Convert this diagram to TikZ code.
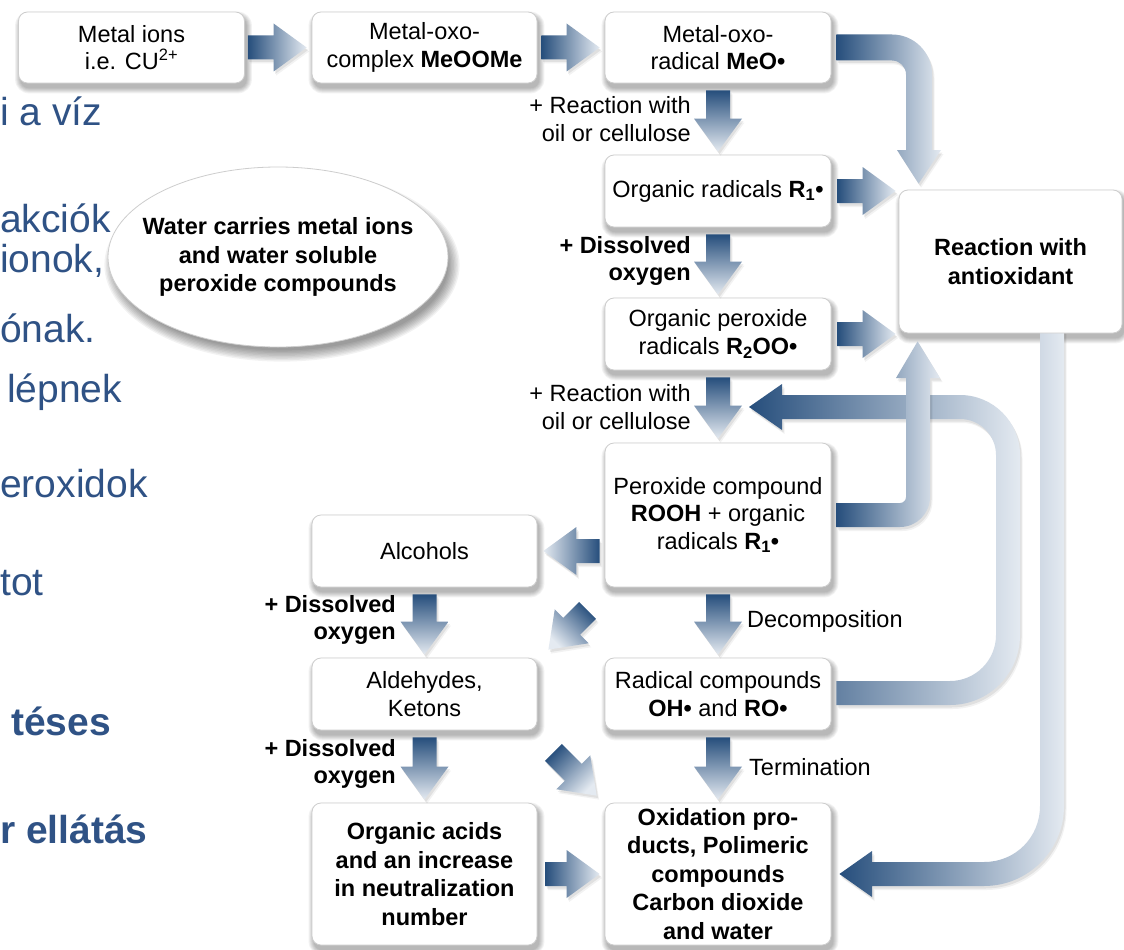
\documentclass[tikz,border=0pt]{standalone}
\usepackage{fontspec}
\setmainfont{Liberation Sans}
\usetikzlibrary{calc,shapes.geometric}
\pgfdeclarelayer{back}
\pgfdeclarelayer{bg}
\pgfsetlayers{back,bg,main}

\definecolor{adark}{RGB}{38,78,124}
\definecolor{alight}{RGB}{228,234,241}
\definecolor{slidetext}{RGB}{47,82,133}
\definecolor{boxborder}{RGB}{205,205,205}

\newcommand\blockarrow[3]{%
  \coordinate (bT) at (#2);
  \coordinate (bP) at (#3);
  \coordinate (bB) at ($(bP)!33pt!(bT)$);
  \path[#1] ($(bT)!12pt!90:(bP)$) -- ($(bB)!12pt!90:(bP)$) -- ($(bB)!24pt!90:(bP)$) -- (bP)
     -- ($(bB)!24pt!-90:(bP)$) -- ($(bB)!12pt!-90:(bP)$) -- ($(bT)!12pt!-90:(bP)$) -- cycle;
}

\tikzset{
  box/.style={draw=boxborder, line width=0.8pt, fill=white, rounded corners=9pt,
    minimum width=226pt, minimum height=71pt, align=center, inner sep=2pt,
    font=\fontsize{23.5}{27.5}\selectfont},
  bbox/.style={box, font=\bfseries\fontsize{23.5}{28.5}\selectfont},
  arrshadow/.style={
    preaction={fill=black, opacity=0.07, transform canvas={shift={(1.5pt,-2.5pt)}}},
    preaction={fill=black, opacity=0.05, transform canvas={shift={(2.5pt,-4pt)}}}},
  downarr/.style={arrshadow, top color=adark, bottom color=alight},
  rightarr/.style={arrshadow, left color=adark, right color=alight},
  leftarr/.style={arrshadow, left color=alight, right color=adark},
  bandarr/.style={arrshadow, left color=adark, right color=alight},
  lbl/.style={font=\fontsize{23.5}{27.5}\selectfont, inner sep=0pt},
  blbl/.style={lbl, font=\bfseries\fontsize{23.5}{27.5}\selectfont},
  slide/.style={text=slidetext, inner sep=0pt, font=\fontsize{39}{44}\selectfont},
  bslide/.style={slide, font=\bfseries\fontsize{39}{44}\selectfont},
  softshadow/.style={fill=black, opacity=0.05},
}

\begin{document}
\begin{tikzpicture}[x=1pt,y=-1pt]
\useasboundingbox (0,0) rectangle (1124,950);
\begin{pgfonlayer}{back}
\fill[white] (0,0) rectangle (1124,950);
\end{pgfonlayer}

% slide text in the background
\node[slide, anchor=base west] (s1) at (0,125) {i a víz};
\node[slide, anchor=base west] (s2) at (0,232) {akciók};
\node[slide, anchor=base west] (s3) at (0,272) {ionok,};
\node[slide, anchor=base west] (s4) at (0,342) {ónak.};
\node[slide, anchor=base west] (s5) at (7,402) {lépnek};
\node[slide, anchor=base west] (s6) at (0,497) {eroxidok};
\node[slide, anchor=base west] (s7) at (0,595) {tot};
\node[bslide, anchor=base west] (s8) at (11,735) {téses};
\node[bslide, anchor=base west] (s9) at (0,843) {r ellátás};

% ellipse
\node[ellipse, draw=boxborder, line width=0.8pt, fill=white, minimum width=340pt, minimum height=180pt,
  align=center, inner xsep=-17pt, inner ysep=0pt, font=\bfseries\fontsize{23.5}{28.5}\selectfont]
  (ell) at (278,257) {Water carries metal ions\\and water soluble\\peroxide compounds};

% boxes
\node[box] (mi) at (131.5,47.5) {Metal ions\\i.e. CU\textsuperscript{2+}};
\node[box, minimum width=225pt] (moc) at (424.5,47.5) {Metal-oxo-\\complex \textbf{MeOOMe}};
\node[box] (mor) at (718,47.5) {Metal-oxo-\\radical \textbf{MeO•}};
\node[box, minimum height=72pt] (orad) at (718,191) {Organic radicals \textbf{R\textsubscript{1}•}};
\node[box, minimum height=72pt] (oper) at (718,334) {Organic peroxide\\radicals \textbf{R\textsubscript{2}OO•}};
\node[box, minimum height=144pt] (perc) at (718,515) {Peroxide compound\\\textbf{ROOH} + organic\\radicals \textbf{R\textsubscript{1}•}};
\node[box, minimum height=72pt] (radc) at (718,694) {Radical compounds\\\textbf{OH•} and \textbf{RO•}};
\node[bbox, minimum height=142pt] (oxp) at (718,874) {Oxidation pro-\\ducts, Polimeric\\compounds\\Carbon dioxide\\and water};
\node[box, minimum width=225pt, minimum height=72pt] (alc) at (424.5,551) {Alcohols};
\node[box, minimum width=225pt, minimum height=72pt] (ald) at (424.5,694) {Aldehydes,\\Ketons};
\node[bbox, minimum width=225pt, minimum height=142pt] (oac) at (424.5,874) {Organic acids\\and an increase\\in neutralization\\number};
\node[bbox, minimum width=223pt, minimum height=143pt] (rwa) at (1010.5,261.5) {Reaction with\\antioxidant};

% labels
\node[lbl, anchor=east, align=right] (l1) at (691,119) {+ Reaction with\\oil or cellulose};
\node[blbl, anchor=east, align=right] (l2) at (691,261) {+ Dissolved\\oxygen};
\node[lbl, anchor=east, align=right] (l3) at (691,407) {+ Reaction with\\oil or cellulose};
\node[lbl, anchor=west] (l4) at (747,621) {Decomposition};
\node[lbl, anchor=west] (l5) at (749,767) {Termination};
\node[blbl, anchor=east, align=right] (l6) at (396,620) {+ Dissolved\\oxygen};
\node[blbl, anchor=east, align=right] (l7) at (396,764) {+ Dissolved\\oxygen};

% straight block arrows
\blockarrow{rightarr}{$(mi.east)+(3,0)$}{$(moc.west)+(-5,0)$}
\blockarrow{rightarr}{$(moc.east)+(4,0)$}{$(mor.west)+(-5,0)$}
\blockarrow{downarr}{$(mor.south)+(0,7)$}{$(orad.north)+(0,-3)$}
\blockarrow{downarr}{$(orad.south)+(0,7)$}{$(oper.north)+(0,-3)$}
\blockarrow{downarr}{$(oper.south)+(0,7)$}{$(perc.north)+(0,-4)$}
\blockarrow{downarr}{$(perc.south)+(0,7)$}{$(radc.north)+(0,-3)$}
\blockarrow{downarr}{$(radc.south)+(0,7)$}{$(oxp.north)+(0,-3)$}
\blockarrow{downarr}{$(alc.south)+(0,7)$}{$(ald.north)+(0,-3)$}
\blockarrow{downarr}{$(ald.south)+(0,7)$}{$(oac.north)+(0,-3)$}
\blockarrow{rightarr}{$(orad.east)+(6,0)$}{$(orad.east -| rwa.west)+(-3,0)$}
\blockarrow{rightarr}{$(oper.east)+(6,0)$}{$(oper.east -| rwa.west)+(-3,0)$}
\blockarrow{leftarr}{$(perc.west |- alc.east)+(-5,0)$}{$(alc.east)+(6,0)$}
\blockarrow{arrshadow, top color=adark, bottom color=alight, shading angle=-45}{$(perc.south west)+(-17,23)$}{$(ald.north east)+(11,-8)$}
\blockarrow{arrshadow, top color=adark, bottom color=alight, shading angle=45}{$(ald.south east)+(16,22)$}{$(oxp.north west)+(-8,-7)$}
\blockarrow{rightarr}{$(oac.east)+(8,0)$}{$(oxp.west)+(-5,0)$}

\begin{pgfonlayer}{bg}
% soft shadow of the ellipse
\foreach \i in {1,...,9}
  \fill[softshadow] ($(ell.center)+(4,8)$) ellipse [x radius={165+1.4*\i}, y radius={84+1.4*\i}];
% soft shadows of the boxes
\foreach \n in {mi,moc,mor,orad,oper,perc,radc,oxp,alc,ald,oac,rwa}
  \foreach \i in {0,...,5}
    \fill[softshadow, rounded corners={9pt+\i pt}]
      ($(\n.south west)+({2-\i},{5+\i})$) rectangle ($(\n.north east)+({2+\i},{5-\i})$);
% radical compounds -> back to the reaction step
\path[bandarr] ($(radc.east)+(5,11)$) -- (950,705) .. controls (988.7,705) and (1020,673.7) .. (1020,635)
  -- (1020,455) .. controls (1020,421.9) and (993.1,395) .. (960,395) -- (782,395) -- (782,384)
  -- (749,407) -- (782,430) -- (782,419) -- (960,419) .. controls (979.9,419) and (996,435.1) .. (996,455)
  -- (996,635) .. controls (996,660.4) and (975.4,681) .. (950,681) -- ($(radc.east)+(5,-13)$) -- cycle;
% peroxide compound -> antioxidant
\path[bandarr] ($(perc.east)+(5,-12)$) -- (900,503) .. controls (903.3,503) and (906,500.3) .. (906,497)
  -- (906,378) -- (896,378) -- ($(rwa.south west)+(19,8)$) -- (940,378) -- (930,378)
  -- (930,497) .. controls (930,513.6) and (916.6,527) .. (900,527) -- ($(perc.east)+(5,12)$) -- cycle;
% metal-oxo-radical -> antioxidant
\path[bandarr] ($(mor.east)+(5,-13)$) -- (892,34.5) .. controls (914.1,34.5) and (932,52.4) .. (932,74.5)
  -- (932,150) -- (941,150) -- ($(rwa.north west)+(20,-6)$) -- (897,150) -- (906,150)
  -- (906,74.5) .. controls (906,66.8) and (899.7,60.5) .. (892,60.5) -- ($(mor.east)+(5,13)$) -- cycle;
% antioxidant -> oxidation products
\path[bandarr] (1040,330) -- (1040,806) .. controls (1040,836.9) and (1015.9,862) .. (984,862)
  -- (872,862) -- (872,851) -- ($(oxp.east)+(8,0)$) -- (872,897) -- (872,886) -- (984,886)
  .. controls (1028.2,886) and (1064,850.2) .. (1064,806) -- (1064,330) -- cycle;
\end{pgfonlayer}
\end{tikzpicture}
\end{document}
